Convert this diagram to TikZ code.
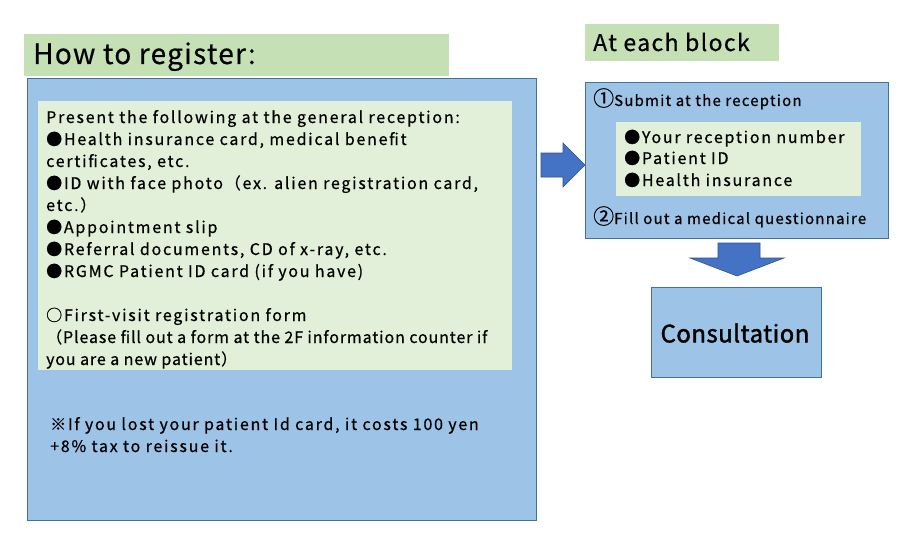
\documentclass[tikz,border=0pt]{standalone}
\usepackage{fontspec}
\setmainfont{Noto Sans CJK JP}
\newfontfamily\bodyfont[LetterSpace=11,FakeBold=0.6]{Noto Sans CJK JP}
\newfontfamily\tightfont[LetterSpace=5.5,FakeBold=0.6]{Noto Sans CJK JP}
\newfontfamily\subfont[LetterSpace=8,FakeBold=0.6]{Noto Sans CJK JP}
\newfontfamily\headfont[LetterSpace=4.5,FakeBold=0.4]{Noto Sans CJK JP}
\newfontfamily\headfontb[LetterSpace=6,FakeBold=0.4]{Noto Sans CJK JP}
\newfontfamily\consfont[LetterSpace=2,FakeBold=1.6]{Noto Sans CJK JP}
\definecolor{titlegreen}{HTML}{C5E0B4}
\definecolor{boxblue}{HTML}{9DC3E6}
\definecolor{boxline}{HTML}{41719C}
\definecolor{innergreen}{HTML}{E2F0D9}
\definecolor{arrowfill}{HTML}{4472C4}
\definecolor{arrowline}{HTML}{2F528F}
\begin{document}
\begin{tikzpicture}[x=1pt,y=-1pt,
  titlebox/.style={fill=titlegreen,draw=none},
  bluebox/.style={fill=boxblue,draw=boxline,line width=0.9pt},
  greenbox/.style={fill=innergreen,draw=none},
  blockarrow/.style={fill=arrowfill,draw=arrowline,line width=0.6pt},
  txt/.style={anchor=base west,inner sep=0pt,font=\bodyfont\fontsize{16}{18}\selectfont},
  tighttxt/.style={anchor=base west,inner sep=0pt,font=\tightfont\fontsize{16}{18}\selectfont},
  subtxt/.style={anchor=base west,inner sep=0pt,font=\subfont\fontsize{15}{18}\selectfont},
  ttl/.style={anchor=base west,inner sep=0pt,font=\headfont\fontsize{28}{30}\selectfont},
]
\useasboundingbox (0,0) rectangle (900,551);
\fill[white] (0,0) rectangle (900,551);
% left
\fill[titlebox] (24,34) rectangle (449,76);
\node[ttl] (t1) at (33,64) {How to register:};
\draw[bluebox] (27,78) rectangle (536,520);
\fill[greenbox] (38,101) rectangle (512,370);
\node[txt] (l1) at (46,123) {Present the following at the general reception:};
\node[txt] (l2) at (46,145) {●Health insurance card, medical benefit};
\node[txt] (l3) at (46,167) {certificates, etc.};
\node[txt] (l4) at (46,189) {●ID with face photo（ex. alien registration card,};
\node[txt] (l5) at (46,211) {etc.）};
\node[txt] (l6) at (46,233) {●Appointment slip};
\node[txt] (l7) at (46,255) {●Referral documents, CD of x-ray, etc.};
\node[txt] (l8) at (46,277) {●RGMC Patient ID card (if you have)};
\node[txt] (l9) at (46,321) {○First-visit registration form};
\node[tighttxt] (l10) at (46,343) {（Please fill out a form at the 2F information counter if};
\node[tighttxt] (l11) at (46,365) {you are a new patient）};
\node[txt] (n1) at (50,430) {※If you lost your patient Id card, it costs 100 yen};
\node[txt] (n2) at (50,452) {+8\% tax to reissue it.};
% right arrow
\draw[blockarrow] (541,153) -- (563,153) -- (563,143) -- (585,165) -- (563,187) -- (563,177) -- (541,177) -- cycle;
% right
\fill[titlebox] (585,24) rectangle (779,61);
\node[anchor=base west,inner sep=0pt,font=\headfontb\fontsize{23}{26}\selectfont] (t2) at (593,51) {At each block};
\draw[bluebox] (585,82) rectangle (888,238);
\node[subtxt] (s1) at (593,106) {{\fontsize{21}{21}\selectfont ①}Submit at the reception};
\fill[greenbox] (616,122) rectangle (861,196);
\node[txt] (r1) at (624,143) {●Your reception number};
\node[txt] (r2) at (624,164) {●Patient ID};
\node[txt] (r3) at (624,186) {●Health insurance};
\node[subtxt] (s2) at (593,224) {{\fontsize{21}{21}\selectfont ②}Fill out a medical questionnaire};
% down arrow
\draw[blockarrow] (718,243) -- (760,243) -- (760,258) -- (784,258) -- (737,276) -- (690,258) -- (718,258) -- cycle;
\draw[bluebox] (651,287) rectangle (821,377);
\node[font=\consfont\fontsize{24}{26}\selectfont,inner sep=0pt] (c) at (735,333) {Consultation};
\end{tikzpicture}
\end{document}
